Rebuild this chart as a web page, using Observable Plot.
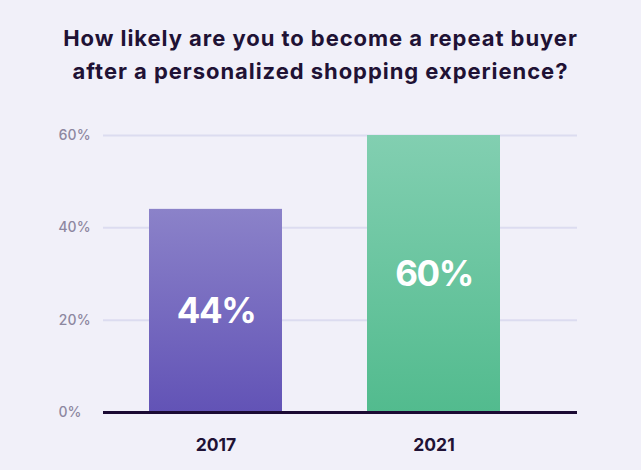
<!DOCTYPE html>
<html><head><meta charset="utf-8">
<script src="https://cdn.jsdelivr.net/npm/d3@7"></script>
<script src="https://cdn.jsdelivr.net/npm/@observablehq/plot@0.6"></script>
<style>
html,body{margin:0;padding:0;background:#f1f0f9;}
#wrap{width:641px;height:470px;overflow:hidden;font-family:Inter,"Open Sans",sans-serif;}
#title{height:110px;box-sizing:border-box;padding-top:22px;text-align:center;font-size:22px;font-weight:700;line-height:33px;color:#1f1235;letter-spacing:0.95px;white-space:nowrap;}
</style></head>
<body><div id="wrap"><div id="title">How likely are you to become a repeat buyer<br>after a personalized shopping experience?</div><div id="chart"></div></div>
<script>
const years = ["2017", "2021"];
const values = [44, 60];
const yTicks = [0, 20, 40, 60];

const data = years.map((y, i) => ({year: y, value: values[i]}));

const plot = Plot.plot({
  width: 641,
  height: 360,
  marginLeft: 103,
  marginRight: 64,
  marginTop: 25,
  marginBottom: 58,
  style: {background: "transparent", fontFamily: "Inter, sans-serif"},
  x: {domain: years, range: [149, 500], paddingInner: 0.39, paddingOuter: 0, label: null},
  y: {domain: [0, 60], label: null},
  marks: [
    Plot.ruleY(yTicks.filter(t => t > 0), {stroke: "#dcdcf0", strokeWidth: 2}),
    Plot.barY(data.filter(d => d.year === "2017"), {x: "year", y: "value", fill: "url(#gradPurple)"}),
    Plot.barY(data.filter(d => d.year === "2021"), {x: "year", y: "value", fill: "url(#gradGreen)"}),
    Plot.ruleY([0], {stroke: "#1b0a33", strokeWidth: 3}),
    Plot.text(data, {x: "year", y: d => d.value / 2, text: d => d.value + "%", fill: "white", fontSize: 35, fontWeight: 700, dy: 1}),
    Plot.axisY({ticks: yTicks, tickFormat: d => d + "%", tickSize: 0, tickPadding: 45, textAnchor: "start", fontSize: 14, fontWeight: 500, fill: "#8d87a0"}),
    Plot.axisX({tickSize: 0, tickPadding: 26, fontSize: 17.5, fontWeight: 700, fill: "#1f1235"})
  ]
});

const ns = "http://www.w3.org/2000/svg";
const defs = document.createElementNS(ns, "defs");
function grad(id, top, bottom) {
  const g = document.createElementNS(ns, "linearGradient");
  g.setAttribute("id", id);
  g.setAttribute("x1", "0"); g.setAttribute("y1", "0");
  g.setAttribute("x2", "0"); g.setAttribute("y2", "1");
  [[0, top], [1, bottom]].forEach(([o, c]) => {
    const s = document.createElementNS(ns, "stop");
    s.setAttribute("offset", o);
    s.setAttribute("stop-color", c);
    g.appendChild(s);
  });
  defs.appendChild(g);
}
grad("gradPurple", "#8b82c9", "#6253b6");
grad("gradGreen", "#82cfb1", "#52bb8e");
plot.insertBefore(defs, plot.firstChild);
d3.select(plot).selectAll('g[aria-label="text"] text').attr("letter-spacing", "-1.5");
document.getElementById("chart").appendChild(plot);
</script>
</body></html>
